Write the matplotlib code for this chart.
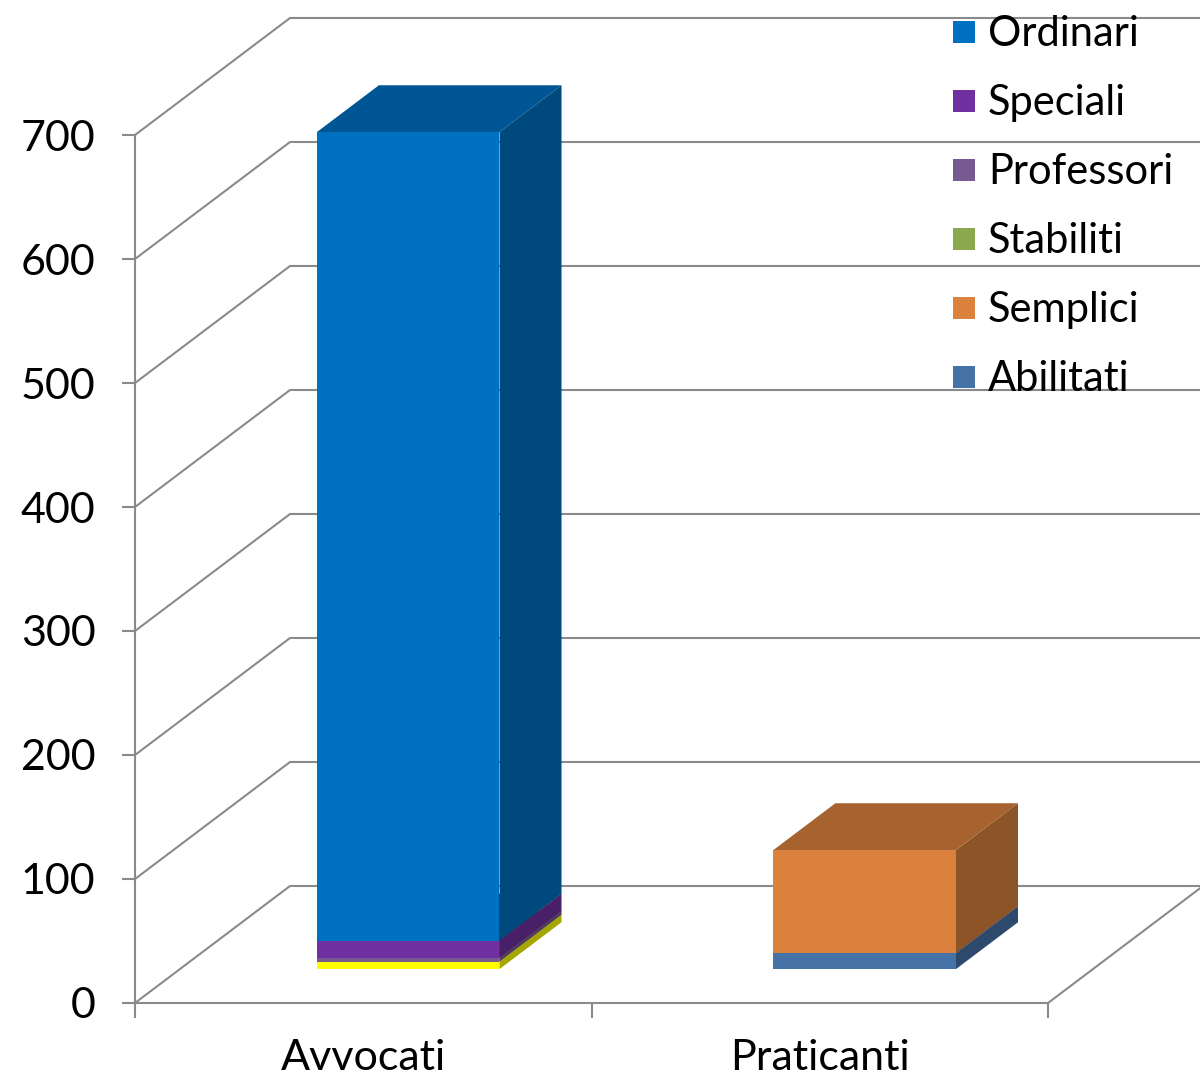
import matplotlib
matplotlib.use("Agg")
import matplotlib.pyplot as plt
from matplotlib.patches import Polygon, Rectangle

# data
categories = ["Avvocati", "Praticanti"]
series = ["Ordinari", "Speciali", "Professori", "Stabiliti", "Semplici", "Abilitati"]
altro = [6, 0]          # yellow base segment, no legend entry visible
abilitati = [0, 13]
semplici = [0, 83]
stabiliti = [0, 0]
professori = [3, 0]
speciali = [14, 0]
ordinari = [652, 0]
y_ticks = [0, 100, 200, 300, 400, 500, 600, 700]

# stack bottom -> top
stack = [
    (altro, "#FFFF00"),
    (abilitati, "#4572A7"),
    (semplici, "#D9813D"),
    (stabiliti, "#8BA84E"),
    (professori, "#775A92"),
    (speciali, "#7030A0"),
    (ordinari, "#0070C0"),
]
legend_colors = ["#0070C0", "#7030A0", "#775A92", "#8BA84E", "#D9813D", "#4572A7"]

W, H = 1200, 1078
# oblique projection: full depth offset in data units
DX, DY = 155 / 456.5, 117 / 1.24
F0, F1 = 0.29, 0.69     # bar front/back depth fraction
HALF = 0.2
GRID = "#8A8A8A"


def P(x, v, f):
    return (x + f * DX, v + f * DY)


def shade(c, k):
    r, g, b = matplotlib.colors.to_rgb(c)
    return (r * k, g * k, b * k)


plt.rcParams["font.family"] = ["Lato", "DejaVu Sans"]
fig = plt.figure(figsize=(W / 100, H / 100), dpi=100)
ax = fig.add_axes([0, 0, 1, 1])
ax.set_xlim(-135 / 456.5, (W - 135) / 456.5)
ax.set_ylim((1003 - H) / 1.24, 1003 / 1.24)
ax.patch.set_visible(False)

# back wall + floor grid
xmax = (W - 135) / 456.5 + 0.1
for v in y_ticks:
    a, b = P(0, v, 0), P(0, v, 1)
    ax.plot([a[0], b[0], xmax], [a[1], b[1], b[1]], color=GRID, lw=1.5, zorder=1)
a, b = P(2, 0, 0), P(2, 0, 1)
ax.plot([a[0], b[0]], [a[1], b[1]], color=GRID, lw=1.5, zorder=1)

# bars
for i, cat in enumerate(categories):
    c = i + 0.5
    base = 0
    for vals, col in stack:
        v0, v1 = base, base + vals[i]
        base = v1
        if vals[i] <= 0:
            continue
        front = [P(c - HALF, v0, F0), P(c + HALF, v0, F0), P(c + HALF, v1, F0), P(c - HALF, v1, F0)]
        side = [P(c + HALF, v0, F0), P(c + HALF, v0, F1), P(c + HALF, v1, F1), P(c + HALF, v1, F0)]
        top = [P(c - HALF, v1, F0), P(c + HALF, v1, F0), P(c + HALF, v1, F1), P(c - HALF, v1, F1)]
        ax.add_patch(Polygon(side, closed=True, fc=shade(col, 0.65), ec="none", zorder=3))
        ax.add_patch(Polygon(top, closed=True, fc=shade(col, 0.77), ec="none", zorder=3))
        ax.add_patch(Polygon(front, closed=True, fc=col, ec="none", zorder=3))

# front axes
for s in ["top", "right"]:
    ax.spines[s].set_visible(False)
ax.spines["left"].set_position(("data", 0))
ax.spines["bottom"].set_position(("data", 0))
ax.spines["left"].set_bounds(0, 700)
ax.spines["bottom"].set_bounds(0, 2)
for s in ["left", "bottom"]:
    ax.spines[s].set_color(GRID)
    ax.spines[s].set_linewidth(1.5)
    ax.spines[s].set_zorder(2)
ax.set_yticks(y_ticks)
ax.set_yticklabels([str(v) for v in y_ticks])
ax.tick_params(axis="y", direction="out", length=9.5, width=1.5, color=GRID,
               pad=19, labelsize=31)
ax.set_xticks([0, 1, 2])
ax.set_xticklabels([])
ax.set_xticks([0.5, 1.5], minor=True)
ax.set_xticklabels(categories, minor=True)
ax.tick_params(axis="x", which="major", direction="out", length=11, width=1.5, color=GRID)
ax.tick_params(axis="x", which="minor", length=0, pad=26, labelsize=31)

# legend
for k, (name, col) in enumerate(zip(series, legend_colors)):
    yc = 32 + k * 69
    fig.patches.append(Rectangle((953 / W, 1 - (yc + 11) / H), 22 / W, 22 / H,
                                 transform=fig.transFigure, fc=col, ec="none"))
    fig.text(988 / W, 1 - (yc + 14) / H, name, fontsize=30, va="baseline", ha="left")

fig.savefig("out.png", dpi=100)
